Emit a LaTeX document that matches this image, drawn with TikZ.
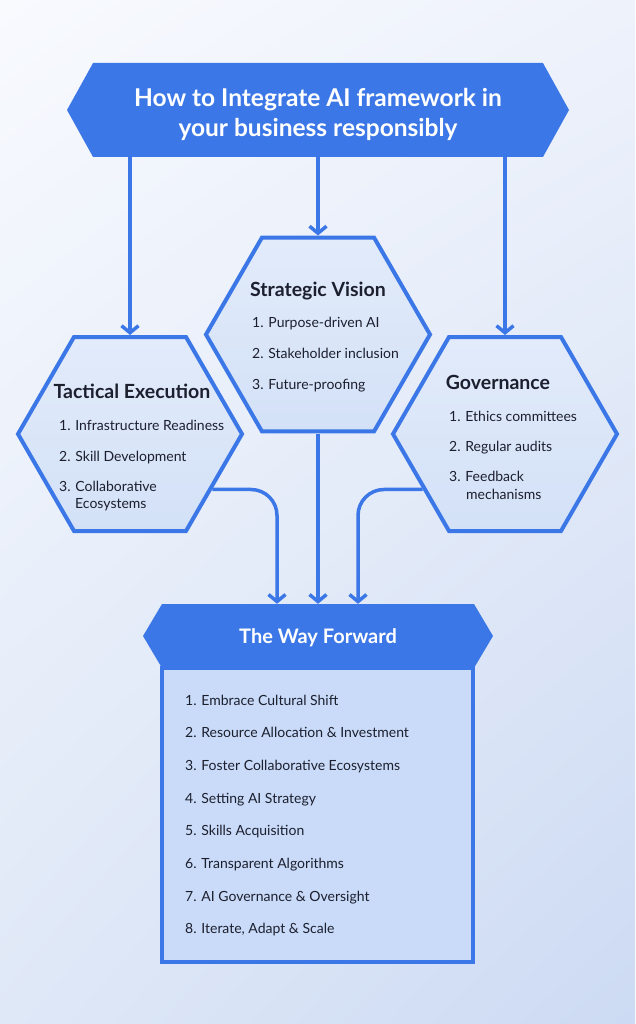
\documentclass[tikz,border=0pt]{standalone}
\usepackage{fontspec}
\setmainfont{Lato}
\usetikzlibrary{shapes.geometric,shapes.symbols,arrows.meta,shadings}
\definecolor{bluemain}{HTML}{3B77E7}
\definecolor{hextop}{HTML}{E2EBFA}
\definecolor{hexbot}{HTML}{D3E1F7}
\definecolor{boxfill}{HTML}{C9DBF8}
\definecolor{ink}{HTML}{1C1F2E}
\definecolor{bgul}{HTML}{F8FAFE}
\definecolor{bgur}{HTML}{EEF2FB}
\definecolor{bgll}{HTML}{DFE8F7}
\definecolor{bglr}{HTML}{CCDAF3}
\begin{document}
\begin{tikzpicture}[x=1pt,y=-1pt,
  hex/.style={regular polygon, regular polygon sides=6, minimum size=224pt, inner sep=0pt, draw=bluemain, line width=4pt, top color=hextop, bottom color=hexbot},
  banner/.style={signal, signal to=west and east, fill=bluemain, draw=none, inner sep=0pt},
  bannertext/.style={font=\bfseries\fontsize{24.5}{28}\selectfont, text=white, anchor=base, inner sep=0pt},
  hextitle/.style={font=\bfseries\fontsize{19.5}{22}\selectfont, text=ink, anchor=base, inner sep=0pt},
  item/.style={font=\fontsize{14}{16}\selectfont, text=ink, anchor=base west, inner sep=0pt},
  arr/.style={draw=bluemain, line width=3.5pt, -{Straight Barb[length=7pt,width=17pt]}},
]
\useasboundingbox (0,0) rectangle (635,1024);
\shade[upper left=bgul, upper right=bgur, lower left=bgll, lower right=bglr] (0,0) rectangle (635,1024);

% title banner
\node[banner, minimum width=502pt, minimum height=94pt, signal pointer angle=122] (title) at (318,110) {};
\node[bannertext] (t1) at (318,107) {How to Integrate AI framework in};
\node[bannertext] (t2) at (318,137) {your business responsibly};

% hexagons
\node[hex] (te) at (130,434) {};
\node[hex] (gov) at (505,434) {};
\node[hex] (sv) at (318,334.5) {};

% strategic vision
\node[hextitle] (svt) at (318,296) {Strategic Vision};
\node[item] (sv1) at (252,327) {1. Purpose-driven AI};
\node[item] (sv2) at (252,358) {2. Stakeholder inclusion};
\node[item] (sv3) at (252,389) {3. Future-proofing};

% tactical execution
\node[hextitle] (tet) at (132,398) {Tactical Execution};
\node[item] (te1) at (59,430) {1. Infrastructure Readiness};
\node[item] (te2) at (59,461) {2. Skill Development};
\node[item] (te3) at (59,491) {3. Collaborative};
\node[item] (te3b) at (75,508) {Ecosystems};

% governance
\node[hextitle] (govt) at (498,389) {Governance};
\node[item] (gov1) at (449,421) {1. Ethics committees};
\node[item] (gov2) at (449,451) {2. Regular audits};
\node[item] (gov3) at (449,481) {3. Feedback};
\node[item] (gov3b) at (466,499) {mechanisms};

% way forward
\node[draw=bluemain, line width=3.5pt, fill=boxfill, minimum width=311pt, minimum height=294pt, inner sep=0pt] (wfbox) at (317.5,815) {};
\node[banner, minimum width=350pt, minimum height=64pt, signal pointer angle=118.6] (wf) at (318,636) {};
\node[bannertext, font=\bfseries\fontsize{20}{24}\selectfont] (wft) at (318,643) {The Way Forward};

\foreach \t [count=\i] in {Embrace Cultural Shift, Resource Allocation \& Investment, Foster Collaborative Ecosystems, Setting AI Strategy, Skills Acquisition, Transparent Algorithms, AI Governance \& Oversight, {Iterate, Adapt \& Scale}}
  \node[item] (w\i) at (185,{705+(\i-1)*32.7}) {\i. \t};

% connectors
\draw[arr] (title.south -| te.north) -- (te.north);
\draw[arr] (title.south -| sv.north) -- (sv.north);
\draw[arr] (title.south -| gov.north) -- (gov.north);
\draw[arr] (sv.south) -- (wf.north);
\draw[arr, rounded corners=26pt] (te.-34) -| ([xshift=-41pt]wf.north);
\draw[arr, rounded corners=26pt] (gov.-146) -| ([xshift=40pt]wf.north);
\end{tikzpicture}
\end{document}
